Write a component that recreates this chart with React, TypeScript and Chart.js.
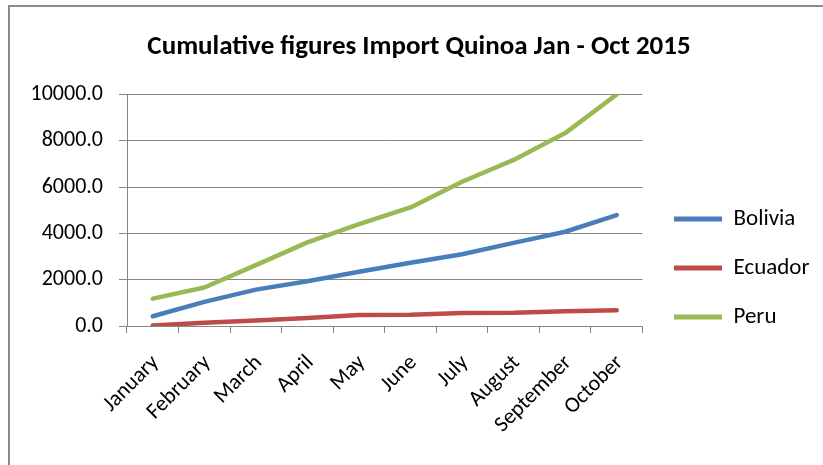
import React, { useEffect, useRef } from "react";
import { Chart, registerables } from "chart.js";

Chart.register(...registerables);

const FONT = 'Carlito, Lato, "Open Sans", sans-serif';

const titleText = "Cumulative figures Import Quinoa Jan - Oct 2015";
const months = ["January", "February", "March", "April", "May", "June", "July", "August", "September", "October"];
const bolivia = [420, 1040, 1570, 1930, 2340, 2730, 3100, 3590, 4070, 4790];
const ecuador = [20, 140, 240, 350, 480, 490, 560, 570, 640, 680];
const peru = [1180, 1660, 2630, 3610, 4400, 5120, 6230, 7170, 8330, 10000];
const yTickValues = [0, 2000, 4000, 6000, 8000, 10000];

const seriesNames = ["Bolivia", "Ecuador", "Peru"];
const seriesColors = ["#4A7EBB", "#BE4B48", "#98B954"];

// nudges the legend block to where the reference places it
const legendShift = {
  id: "legendShift",
  afterLayout(chart: any) {
    const lg = chart.legend;
    if (!lg) return;
    const dx = 674 - (chart.chartArea.right + 26);
    const dy = 33;
    lg.left += dx;
    lg.right += dx;
    lg.top += dy;
    lg.bottom += dy;
  },
};

export default function App() {
  const ref = useRef<HTMLCanvasElement>(null);

  useEffect(() => {
    const seriesValues = [bolivia, ecuador, peru];
    const chart = new Chart(ref.current as HTMLCanvasElement, {
      type: "line",
      data: {
        labels: months,
        datasets: seriesNames.map((name, i) => ({
          label: name,
          data: seriesValues[i],
          borderColor: seriesColors[i],
          backgroundColor: seriesColors[i],
          borderWidth: 4.5,
          pointRadius: 0,
          tension: 0,
          borderCapStyle: "round" as const,
          borderJoinStyle: "round" as const,
        })),
      },
      plugins: [legendShift],
      options: {
        animation: false,
        responsive: false,
        layout: { padding: { left: 24, right: 9, top: 10, bottom: 5 } },
        plugins: {
          title: {
            display: true,
            text: titleText,
            color: "#000",
            font: { family: FONT, size: 27, weight: "bold" },
            padding: { top: 21, bottom: 31 },
          },
          legend: {
            position: "right",
            labels: {
              boxWidth: 48,
              boxHeight: 5,
              padding: 26,
              color: "#000",
              font: { family: FONT, size: 23 },
              generateLabels: (c: any) =>
                Chart.defaults.plugins.legend.labels
                  .generateLabels(c)
                  .map((it: any) => ({ ...it, lineWidth: 0 })),
            },
          },
          tooltip: { enabled: false },
        },
        scales: {
          x: {
            offset: true,
            grid: { offset: true, drawOnChartArea: false, drawTicks: true, tickLength: 7, color: "#868686" },
            border: { display: true, color: "#868686" },
            ticks: {
              minRotation: 45,
              maxRotation: 45,
              color: "#000",
              font: { family: FONT, size: 22 },
              padding: 17,
              labelOffset: 3,
            },
            afterFit: (s: any) => {
              s.height = 134;
            },
          },
          y: {
            min: 0,
            max: 10000,
            grid: { color: "#868686", tickLength: 8 },
            border: { display: true, color: "#868686" },
            ticks: {
              color: "#000",
              font: { family: FONT, size: 22 },
              padding: 16,
              callback: (v: any) => Number(v).toFixed(1),
            },
            afterBuildTicks: (s: any) => {
              s.ticks = yTickValues.map((v) => ({ value: v }));
            },
            afterFit: (s: any) => {
              s.width = 103;
            },
          },
        },
      },
    });
    return () => chart.destroy();
  }, []);

  return (
    <div style={{ position: "absolute", left: 0, top: 0, width: 823, height: 465, overflow: "hidden", background: "#fff" }}>
      <canvas ref={ref} width={823} height={465} style={{ position: "absolute", left: 0, top: 0, width: 823, height: 465 }} />
      <div
        style={{
          position: "absolute",
          left: 8,
          top: 5,
          width: 830,
          height: 470,
          borderTop: "2px solid #8a8a8a",
          borderLeft: "2px solid #8a8a8a",
          pointerEvents: "none",
        }}
      />
    </div>
  );
}
